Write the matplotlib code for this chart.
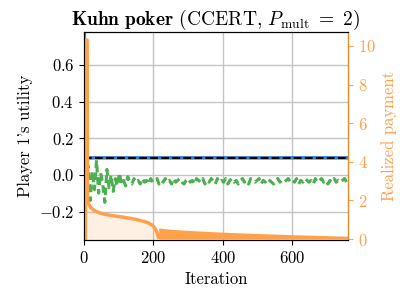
import numpy as np
from matplotlib import pyplot as plt

plt.rcParams["font.family"] = "cmr10"
plt.rcParams["mathtext.fontset"] = "cm"
plt.rcParams["axes.formatter.use_mathtext"] = True
plt.rcParams["font.size"] = 12

# player 1 utility (green = realized, blue = target, black dashed = reference)
util_iter = np.arange(0, 761, 6)
util_green = [1.00, -0.01, 0.05, -0.14, 0.02, -0.08, 0.08, -0.10, 0.01, -0.05,
              -0.15, 0.03, -0.07, 0.00, -0.09, -0.02, -0.06, 0.01, -0.05, -0.03,
              -0.06, -0.01, -0.04, -0.05, -0.02, -0.04, -0.03, -0.05, -0.02, -0.04,
              -0.03, -0.05, -0.02, -0.04, -0.03, -0.02, -0.05, -0.03, -0.04, -0.02,
              -0.04, -0.03, -0.05, -0.02, -0.04, -0.03, -0.02, -0.04, -0.05, -0.03,
              -0.02, -0.04, -0.03, -0.05, -0.02, -0.03, -0.04, -0.02, -0.05, -0.03,
              -0.04, -0.02, -0.03, -0.05, -0.02, -0.04, -0.03, -0.04, -0.02, -0.05,
              -0.03, -0.02, -0.04, -0.03, -0.05, -0.03, -0.02, -0.04, -0.03, -0.05,
              -0.02, -0.03, -0.04, -0.03, -0.02, -0.05, -0.03, -0.04, -0.02, -0.03,
              -0.04, -0.05, -0.03, -0.02, -0.04, -0.03, -0.04, -0.03, -0.02, -0.04,
              -0.03, -0.04, -0.02, -0.05, -0.03, -0.04, -0.02, -0.03, -0.04, -0.03,
              -0.05, -0.02, -0.04, -0.03, -0.02, -0.04, -0.03, -0.05, -0.03, -0.04,
              -0.02, -0.04, -0.03, -0.04, -0.03, -0.02, -0.04]
util_blue_iter = [0, 4, 760]
util_blue = [1.00, 0.093, 0.093]
util_ref = 0.093

# realized payment
pay_iter = [0, 4, 5, 9, 10, 14, 20, 30, 45, 60, 80, 100, 125, 150, 170, 185, 195, 200, 205, 210, 214]
pay_val = [0, 0, 10.3, 10.3, 1.95, 1.8, 1.62, 1.48, 1.36, 1.28, 1.22, 1.17, 1.10, 1.02, 0.93,
           0.84, 0.74, 0.66, 0.54, 0.36, 0.10]
band_iter = [215, 250, 300, 400, 500, 600, 700, 760]
band_top = [0.58, 0.51, 0.45, 0.36, 0.29, 0.23, 0.18, 0.15]

orange = "#ffa04a"
fig = plt.figure(figsize=(4.0, 2.99), dpi=100)
ax1 = fig.add_axes([0.21, 0.197, 0.66, 0.696])
ax2 = ax1.twinx()

ax1.grid(True, color="#c4c4c4", linewidth=1.0)
ax1.set_axisbelow(True)
ax1.axhline(util_ref, color="black", linestyle="--", linewidth=1.5, zorder=4)
ax1.plot(util_blue_iter, util_blue, color="#3a7dc0", linewidth=2.5, zorder=3)
ax1.plot(util_iter, util_green, color="#4caf50", linestyle=(0, (2.5, 1.5)), linewidth=2.2, zorder=3)
ax1.set_xlim(0, 760)
ax1.set_ylim(-0.356, 0.78)
ax1.set_yticks([-0.2, 0.0, 0.2, 0.4, 0.6])
ax1.set_xticks([0, 200, 400, 600])
ax1.set_xlabel("Iteration")
ax1.set_ylabel("Player 1's utility")
ax1.set_title(r"$\mathbf{Kuhn\ poker}$ (CCERT, $P_{\mathrm{mult}}\ =\ 2$)", fontsize=14, pad=3)

ax2.fill_between(pay_iter, pay_val, color=orange, alpha=0.15, linewidth=0)
ax2.plot(pay_iter, pay_val, color=orange, linewidth=2.5)
ax2.fill_between(band_iter, band_top, color=orange, linewidth=0)
ax2.set_ylim(-0.05, 10.72)
ax2.set_yticks([0, 2, 4, 6, 8, 10])
ax2.set_ylabel("Realized payment", color=orange)
ax2.tick_params(axis="y", colors=orange)
ax2.spines["right"].set_color("#e8892a")

fig.savefig("out.png", dpi=100)
